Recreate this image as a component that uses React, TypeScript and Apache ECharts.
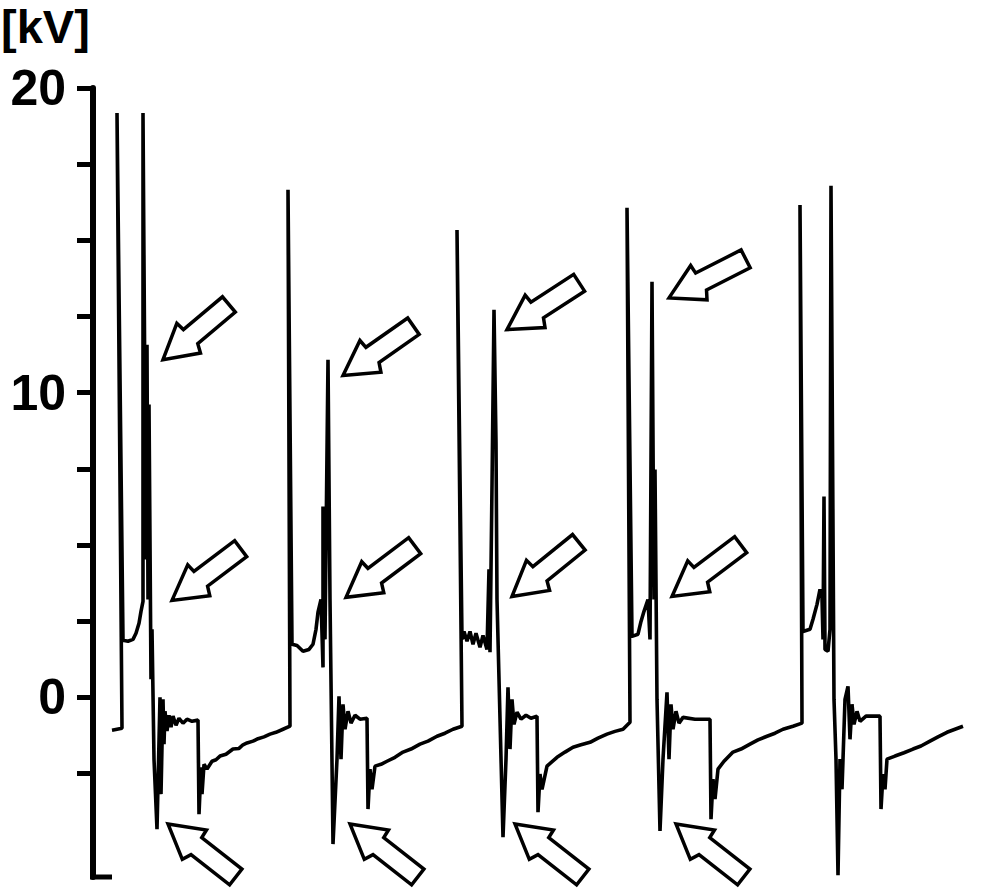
import React, { useEffect, useRef } from "react";
import * as echarts from "echarts";

// Time axis: arbitrary units (one unit per sample step), voltage in kV
const cycle1Time = [19, 29, 24, 30, 35, 40, 43, 46, 48, 50, 50, 53, 54, 55, 56, 58, 59, 61, 64, 67, 68, 70, 71, 72, 74, 76, 78, 80, 83, 86, 90, 94, 99, 105, 106, 108, 109, 111, 114, 119, 123, 127, 133, 140, 146, 150, 154, 160, 165, 171, 177, 183, 190, 197];
const cycle1Kv = [-1.08, -1.02, 19.18, 1.87, 1.84, 1.9, 2.1, 2.43, 2.82, 3.15, 19.18, 4.52, 11.57, 3.21, 9.61, 0.59, 2.23, -2.03, -4.33, 0, -3.18, -0.07, -1.54, -0.46, -1.11, -0.59, -0.98, -0.62, -0.92, -0.69, -0.85, -0.72, -0.79, -0.75, -3.84, -2.3, -3.18, -2.2, -2.36, -2.1, -2.05, -1.93, -1.87, -1.7, -1.68, -1.56, -1.5, -1.44, -1.36, -1.3, -1.21, -1.15, -1.05, -0.95];

const cycle2Time = [195, 199, 204, 210, 216, 220, 223, 225, 228, 230, 230, 232, 235, 237, 240, 244, 246, 248, 250, 252, 255, 258, 262, 267, 274, 275, 277, 279, 282, 288, 294, 302, 310, 318, 327, 335, 344, 352, 360, 369];
const cycle2Kv = [16.66, 1.74, 1.7, 1.51, 1.57, 1.74, 2.23, 2.79, 3.21, 0.98, 6.26, 1.9, 11.08, 3.21, -4.82, -2.03, 0.03, -2.03, -0.23, -1.05, -0.46, -0.85, -0.59, -0.72, -0.69, -3.67, -2.36, -3.02, -2.26, -2.2, -2.1, -1.97, -1.8, -1.7, -1.54, -1.44, -1.28, -1.18, -1.05, -0.95];

const cycle3Time = [364, 369, 371, 374, 377, 380, 383, 387, 390, 394, 396, 397, 399, 401, 403, 404, 410, 413, 415, 417, 419, 421, 424, 428, 433, 438, 444, 445, 447, 449, 454, 464, 472, 480, 488, 497, 505, 514, 522, 530, 537];
const cycle3Kv = [15.34, 1.9, 2.16, 1.84, 2.16, 1.74, 2.1, 1.64, 2.03, 1.57, 4.2, 1.48, 6.92, 12.72, 8.36, 3.21, -4.59, -2.03, 0.33, -1.7, -0.07, -0.89, -0.49, -0.72, -0.59, -0.69, -0.62, -3.77, -2.52, -3.02, -2.26, -1.97, -1.8, -1.64, -1.56, -1.48, -1.34, -1.21, -1.12, -1.05, -0.82];

const cycle4Time = [534, 539, 545, 548, 551, 555, 557, 559, 561, 562, 564, 567, 570, 574, 576, 578, 580, 583, 586, 590, 602, 617, 618, 620, 622, 625, 631, 640, 648, 657, 665, 674, 682, 690, 700, 709];
const cycle4Kv = [16.07, 2.0, 2.07, 2.49, 2.82, 3.21, 1.9, 13.64, 3.21, 7.48, -0.07, -4.39, -2.03, 0.16, -2.03, -0.23, -1.05, -0.46, -0.85, -0.66, -0.72, -0.72, -4.0, -2.69, -3.34, -2.36, -2.1, -1.8, -1.7, -1.54, -1.4, -1.28, -1.18, -1.05, -0.95, -0.85];

const cycle5Time = [707, 710, 717, 720, 724, 727, 729, 730, 731, 732, 735, 737, 738, 741, 743, 745, 747, 749, 752, 755, 757, 759, 761, 764, 767, 773, 787, 788, 790, 792, 794, 802, 811, 820, 828, 837, 845, 854, 862, 870];
const cycle5Kv = [16.16, 2.16, 2.23, 2.56, 3.05, 3.54, 3.28, 1.9, 6.59, 1.57, 1.51, 2.23, 16.79, -0.07, -2.03, -5.84, -2.03, -3.02, -0.07, 0.36, -1.38, -0.23, -0.89, -0.46, -0.79, -0.62, -0.62, -3.67, -2.52, -3.02, -2.03, -1.93, -1.82, -1.7, -1.6, -1.44, -1.3, -1.15, -1.05, -0.95];

const yTickValues = [-2.5, 0, 2.5, 5, 7.5, 10, 12.5, 15, 17.5, 20];
const yLabelValues = [0, 10, 20];
const yMin = -5.9;
const yMax = 20;
const timeMax = 899;

// Arrow annotations: tip position (time, kV) and direction of the tail in degrees
const arrowTips = [
  { t: 70, v: 11.08, angle: 40 },
  { t: 250, v: 10.56, angle: 35 },
  { t: 414, v: 12.07, angle: 33 },
  { t: 576, v: 13.11, angle: 27 },
  { t: 79, v: 3.18, angle: 37 },
  { t: 253, v: 3.28, angle: 37 },
  { t: 419, v: 3.31, angle: 39 },
  { t: 579, v: 3.31, angle: 37 },
  { t: 75, v: -4.16, angle: -38 },
  { t: 257, v: -4.16, angle: -38 },
  { t: 422, v: -4.16, angle: -38 },
  { t: 583, v: -4.16, angle: -38 },
];

const cycles = [
  { time: cycle1Time, kv: cycle1Kv },
  { time: cycle2Time, kv: cycle2Kv },
  { time: cycle3Time, kv: cycle3Kv },
  { time: cycle4Time, kv: cycle4Kv },
  { time: cycle5Time, kv: cycle5Kv },
];

// arrow outline in local (u along tail, w across) units
const arrowShape = [
  [0, 0],
  [34, -19],
  [35, -10],
  [86, -10],
  [86, 10],
  [37, 10],
  [33, 19],
];

export default function App() {
  const ref = useRef<HTMLDivElement>(null);
  useEffect(() => {
    document.body.style.margin = "0";
    const chart = echarts.init(ref.current as HTMLDivElement, null, { renderer: "svg" });
    const data: number[][] = [];
    cycles.forEach((c) => c.time.forEach((t, i) => data.push([t, c.kv[i]])));
    const font = "'Liberation Sans', Arial, Helvetica, sans-serif";
    chart.setOption({
      animation: false,
      backgroundColor: "#ffffff",
      title: {
        text: "[kV]",
        left: 1,
        top: 0,
        padding: 0,
        textStyle: { fontSize: 47, fontWeight: "bold", fontFamily: font, color: "#000", lineHeight: 53 },
      },
      grid: { left: 93, right: 0, top: 88, bottom: 11, containLabel: false },
      xAxis: { type: "value", min: 0, max: timeMax, show: false },
      yAxis: {
        type: "value",
        min: yMin,
        max: yMax,
        splitLine: { show: false },
        axisLine: { show: true, onZero: false, lineStyle: { color: "#000", width: 6 } },
        axisTick: {
          show: true,
          customValues: yTickValues,
          length: 16,
          lineStyle: { color: "#000", width: 5 },
        },
        axisLabel: {
          customValues: yLabelValues,
          fontSize: 50,
          fontWeight: "bold",
          fontFamily: font,
          color: "#000",
          margin: 27,
        },
      },
      series: [
        {
          type: "line",
          data,
          symbol: "none",
          showSymbol: false,
          clip: false,
          lineStyle: { color: "#000", width: 3.6 },
        },
      ],
    });

    const graphics: any[] = [];
    arrowTips.forEach((a) => {
      const p = chart.convertToPixel({ gridIndex: 0 }, [a.t, a.v]) as number[];
      const th = (a.angle * Math.PI) / 180;
      const dx = Math.cos(th), dy = -Math.sin(th);
      const px = Math.sin(th), py = Math.cos(th);
      const points = arrowShape.map(([u, w]) => [p[0] + u * dx + w * px, p[1] + u * dy + w * py]);
      graphics.push({
        type: "polygon",
        shape: { points },
        style: { fill: "#fff", stroke: "#000", lineWidth: 3.5, lineJoin: "miter" },
        z: 10,
      });
    });
    const b = chart.convertToPixel({ gridIndex: 0 }, [0, yMin]) as number[];
    graphics.push({
      type: "line",
      shape: { x1: b[0] - 3, y1: b[1], x2: b[0] + 19, y2: b[1] },
      style: { stroke: "#000", lineWidth: 5 },
    });
    chart.setOption({ graphic: graphics });
    return () => chart.dispose();
  }, []);
  return (
    <div
      ref={ref}
      style={{ position: "fixed", left: 0, top: 0, width: 992, height: 888, background: "#fff" }}
    />
  );
}
